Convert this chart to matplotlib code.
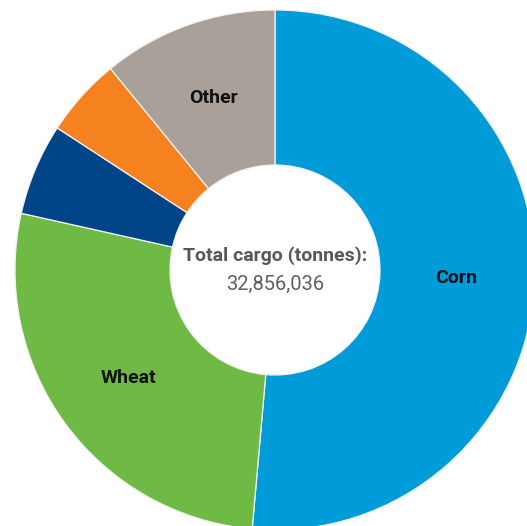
import matplotlib
matplotlib.use("Agg")
import matplotlib.pyplot as plt

categories = ["Corn", "Wheat", "Barley", "Soybeans", "Other"]
shares = [51.4, 27.1, 5.7, 4.9, 10.9]
colors = ["#009bd9", "#6fba44", "#004587", "#f5821f", "#a9a09a"]
show_label = [True, True, False, False, True]
total_label = "Total cargo (tonnes):"
total_value = "32,856,036"

W, H = 527, 526
fig = plt.figure(figsize=(W / 100, H / 100), dpi=100)
ax = fig.add_axes([0, 0, 1, 1])

cx, cy = 275, H - 270
R = 260
hole = 105
wedges, _ = ax.pie(shares, colors=colors, startangle=90, counterclock=False,
                   center=(cx, cy), radius=R, frame=True,
                   wedgeprops=dict(width=R - hole, edgecolor="#f2f2f2", linewidth=0.9))
ax.set_xlim(0, W)
ax.set_ylim(0, H)
ax.set_aspect("equal")
ax.axis("off")

label_pos = {"Corn": (456, H - 278), "Wheat": (128, H - 378), "Other": (214, H - 98)}
for cat, show in zip(categories, show_label):
    if show:
        x, y = label_pos[cat]
        ax.text(x, y, cat, ha="center", va="center", fontsize=14, fontweight="bold",
                family=["Roboto", "DejaVu Sans"], color="#111111")

ax.text(cx, H - 256, total_label, ha="center", va="center", fontsize=14,
        fontweight="bold", family=["Roboto", "DejaVu Sans"], color="#58585b")
ax.text(cx, H - 284, total_value, ha="center", va="center", fontsize=14.5,
        family=["Roboto", "DejaVu Sans"], color="#606063")

fig.savefig("out.png", dpi=100)
